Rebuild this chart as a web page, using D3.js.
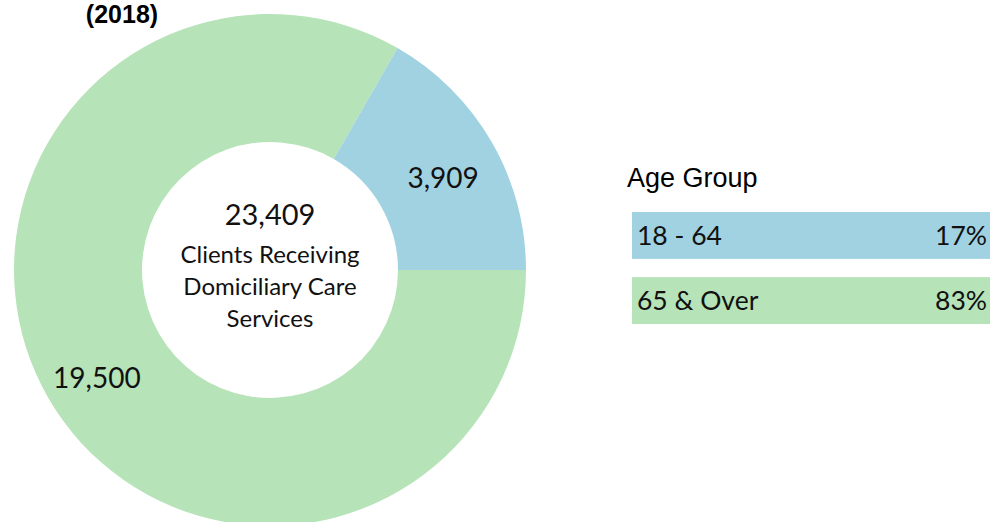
<!DOCTYPE html>
<html>
<head>
<meta charset="utf-8">
<script src="https://cdn.jsdelivr.net/npm/d3@7"></script>
<style>
  html, body { margin: 0; padding: 0; background: #fff; }
  svg { display: block; }
</style>
</head>
<body>
<div id="chart"></div>
<script>
var w = 990,
  h = 522;

// data
const groups = ["65 & Over", "18 - 64"];
const clients = [19500, 3909];
const shares = ["83%", "17%"];
const colours = ["#b6e3b8", "#a0d2e2"];
const total = 23409;
const centreLines = ["Clients Receiving", "Domiciliary Care", "Services"];
const title = "(2018)";

var cx = 270,
  cy = 270,
  outer = 256,
  inner = 128;

var svg = d3.select("#chart")
  .append("svg")
  .attr("width", w)
  .attr("height", h);

svg.append("text")
  .attr("x", 122)
  .attr("y", 23)
  .attr("text-anchor", "middle")
  .attr("font-family", "'Liberation Sans', Arial, sans-serif")
  .attr("font-weight", "bold")
  .attr("font-size", 25)
  .text(title);

var slices = groups.map((g, i) => ({ name: g, value: clients[i], colour: colours[i] }));

var pie = d3.pie()
  .sort(null)
  .value(d => d.value)
  .startAngle(Math.PI / 2)
  .endAngle(Math.PI / 2 + 2 * Math.PI);

var arc = d3.arc().innerRadius(inner).outerRadius(outer);
var labelArc = d3.arc().innerRadius(200).outerRadius(200);
var fmt = d3.format(",");

var donut = svg.append("g")
  .attr("transform", `translate(${cx},${cy})`);

donut.selectAll("path")
  .data(pie(slices))
  .enter()
  .append("path")
  .attr("d", arc)
  .attr("fill", d => d.data.colour);

donut.selectAll("text.value")
  .data(pie(slices))
  .enter()
  .append("text")
  .attr("class", "value")
  .attr("transform", d => `translate(${labelArc.centroid(d)})`)
  .attr("dy", "0.35em")
  .attr("y", 8)
  .attr("text-anchor", "middle")
  .attr("font-family", "Lato, sans-serif")
  .attr("font-size", 28)
  .attr("fill", "#111")
  .text(d => fmt(d.data.value));

donut.append("text")
  .attr("y", -45)
  .attr("text-anchor", "middle")
  .attr("font-family", "Lato, sans-serif")
  .attr("font-size", 29)
  .attr("fill", "#111")
  .text(fmt(total));

donut.selectAll("text.centre")
  .data(centreLines)
  .enter()
  .append("text")
  .attr("class", "centre")
  .attr("y", (d, i) => -7 + i * 32)
  .attr("text-anchor", "middle")
  .attr("font-family", "Lato, sans-serif")
  .attr("font-size", 24)
  .attr("fill", "#111")
  .text(d => d);

// legend
var legend = svg.append("g");

legend.append("text")
  .attr("x", 627)
  .attr("y", 187)
  .attr("font-family", "'Liberation Sans', Arial, sans-serif")
  .attr("font-size", 27)
  .attr("fill", "#000")
  .text("Age Group");

var order = [1, 0];
var ly = d3.scaleBand()
  .domain(order.map(i => groups[i]))
  .range([212, 324])
  .paddingInner(0.28);

var rows = legend.selectAll("g.row")
  .data(order)
  .enter()
  .append("g")
  .attr("class", "row")
  .attr("transform", i => `translate(0,${ly(groups[i])})`);

rows.append("rect")
  .attr("x", 632)
  .attr("width", w - 632)
  .attr("height", ly.bandwidth())
  .attr("fill", i => colours[i]);

rows.append("text")
  .attr("x", 637)
  .attr("y", ly.bandwidth() / 2)
  .attr("dy", "0.35em")
  .attr("font-family", "Lato, sans-serif")
  .attr("font-size", 26.5)
  .attr("fill", "#111")
  .text(i => groups[i]);

rows.append("text")
  .attr("x", 987)
  .attr("y", ly.bandwidth() / 2)
  .attr("dy", "0.35em")
  .attr("text-anchor", "end")
  .attr("font-family", "Lato, sans-serif")
  .attr("font-size", 26.5)
  .attr("fill", "#111")
  .text(i => shares[i]);
</script>
</body>
</html>
